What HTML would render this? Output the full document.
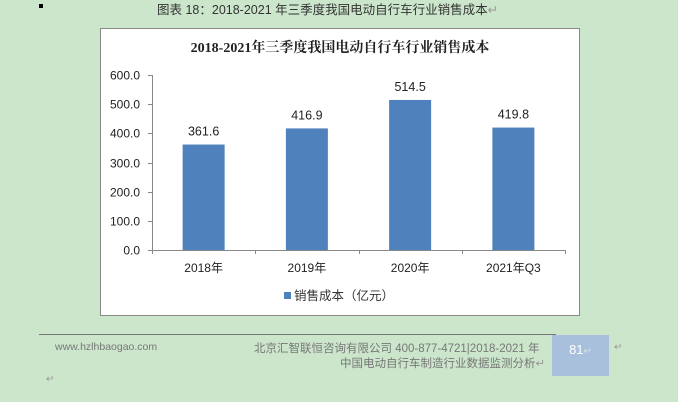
<!DOCTYPE html>
<html><head><meta charset="utf-8">
<style>
body{margin:0;width:678px;height:402px;background:#cce6cc;font-family:"Liberation Sans","Noto Sans CJK SC",sans-serif;position:relative;overflow:hidden}
.a{position:absolute;white-space:nowrap}
</style></head><body>
<div class="a" style="left:39px;top:4px;width:4px;height:4px;background:#000"></div>
<div class="a" style="left:157px;top:-1px;font-size:12.5px;color:#333">图表 18：2018-2021 年三季度我国电动自行车行业销售成本<span style="color:#999">↵</span></div>
<svg class="a" style="left:0;top:0" width="678" height="402">
<rect x="100.5" y="28.5" width="479" height="287" fill="#fff" stroke="#888"/>
<text x="340" y="52" text-anchor="middle" font-size="14" font-weight="bold" fill="#222" font-family="Liberation Serif,Noto Serif CJK SC,serif">2018-2021年三季度我国电动自行车行业销售成本</text>
<g id="g"></g>
<rect x="284" y="292" width="7" height="7" fill="#4f81bd"/>
<text x="294" y="300" font-size="12.5" fill="#333">销售成本（亿元）</text>
</svg>
<div class="a" style="left:39px;top:334px;width:517px;height:1px;background:#777"></div>
<div class="a" style="left:55px;top:341px;font-size:10.5px;color:#777">www.hzlhbaogao.com</div>
<div class="a" style="left:254px;top:340px;font-size:11.5px;color:#777">北京汇智联恒咨询有限公司 400-877-4721|2018-2021 年</div>
<div class="a" style="left:340px;top:355px;font-size:11.5px;color:#777">中国电动自行车制造行业数据监测分析<span style="color:#999">↵</span></div>
<div class="a" style="left:552px;top:335px;width:57px;height:41px;background:#a8c0dc;color:#fff;font-size:13px;text-align:center;line-height:30px">81<span style="font-size:10px;color:#ddd">↵</span></div>
<div class="a" style="left:614px;top:342px;font-size:10px;color:#999">↵</div>
<div class="a" style="left:46px;top:374px;font-size:10px;color:#999">↵</div>
<script>
const categories=["2018年","2019年","2020年","2021年Q3"];
const values=[361.6,416.9,514.5,419.8];
const ticks=[0,100,200,300,400,500,600];
const NS="http://www.w3.org/2000/svg",g=document.getElementById('g');
const x0=152,x1=565,y0=250,y1=75,ymax=600;
const bw=(x1-x0)/categories.length;
const Y=v=>y0-(v/ymax)*(y0-y1);
function el(t,a,txt){const e=document.createElementNS(NS,t);for(const k in a)e.setAttribute(k,a[k]);if(txt!=null)e.textContent=txt;g.appendChild(e);return e;}
let ax=el('line',{x1:x0+.5,x2:x0+.5,y1:y1,y2:y0,stroke:'#888'});

let bx=el('line',{x1:x0,x2:x1,y1:y0+.5,y2:y0+.5,stroke:'#888'});

ticks.forEach(t=>{const y=Math.round(Y(t))+.5;
 el('line',{x1:x0-4,x2:x0,y1:y,y2:y,stroke:'#888'});
 const l=el('text',{x:x0-12,y:y+4,'text-anchor':'end','font-size':12,fill:'#222'},t.toFixed(1));
 });
for(let i=0;i<=categories.length;i++){const x=Math.round(x0+i*bw)+.5;el('line',{x1:x,x2:x,y1:y0,y2:y0+4,stroke:'#888'});}
categories.forEach((c,i)=>{const cx=x0+(i+.5)*bw,w=42;
 const r=el('rect',{x:cx-w/2,y:Y(values[i]),width:w,height:y0-Y(values[i]),fill:'#4f81bd'});
 
 const v=el('text',{x:cx,y:Y(values[i])-9,'text-anchor':'middle','font-size':12.5,fill:'#222'},values[i].toFixed(1));
 
 const l=el('text',{x:cx,y:y0+22,'text-anchor':'middle','font-size':12,fill:'#222'},c);
 });
</script>
</body></html>
